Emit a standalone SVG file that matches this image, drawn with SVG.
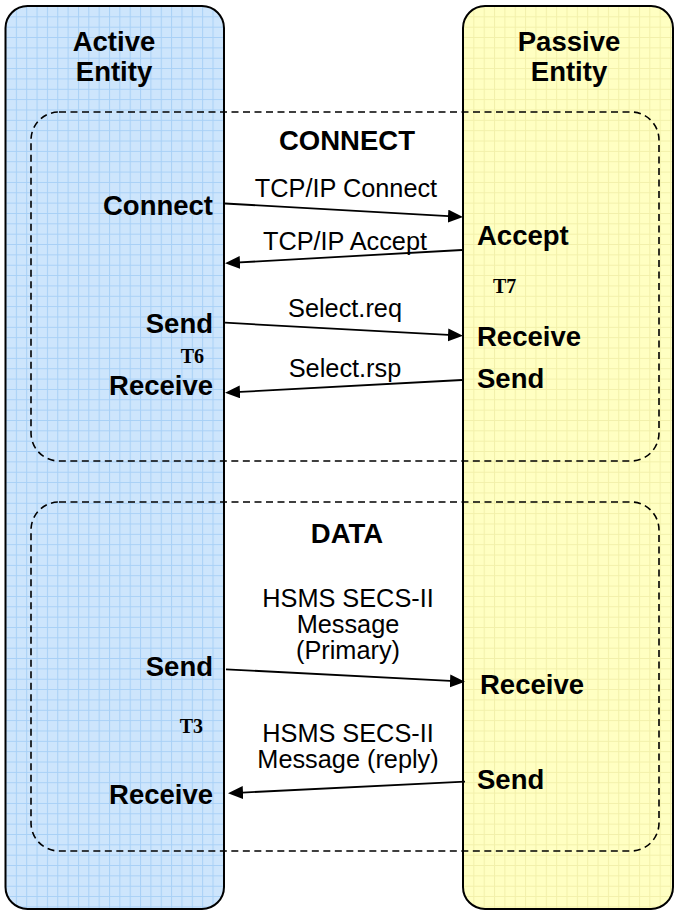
<svg xmlns="http://www.w3.org/2000/svg" width="674" height="911" viewBox="0 0 674 911">
  <style>
    .col { stroke: #000; stroke-width: 2; }
    .box { fill: none; stroke: #000; stroke-width: 1.6; stroke-dasharray: 7 4.5; }
    .title { font-family: "Liberation Sans", Arial, sans-serif; font-weight: bold; font-size: 27.5px; fill: #000; }
    .lbl { font-family: "Liberation Sans", Arial, sans-serif; font-size: 25.3px; fill: #000; }
    .tm { font-family: "Liberation Serif", "Times New Roman", serif; font-weight: bold; font-size: 20px; fill: #000; }
    .end { text-anchor: end; }
    .mid { text-anchor: middle; }
    .arrow { fill: none; stroke: #000; stroke-width: 1.8; marker-end: url(#ah); }
  </style>
  <defs>
    <pattern id="gridBlue" patternUnits="userSpaceOnUse" x="5.5" y="6" width="10.35" height="10.35">
      <rect width="10.35" height="10.35" fill="#cde5fc"/>
      <path d="M0,0.5 H10.35 M0.5,0 V10.35" stroke="#a8d0f6" stroke-width="1" fill="none"/>
    </pattern>
    <pattern id="gridYellow" patternUnits="userSpaceOnUse" x="463" y="6" width="10.35" height="10.35">
      <rect width="10.35" height="10.35" fill="#ffffc2"/>
      <path d="M0,0.5 H10.35 M0.5,0 V10.35" stroke="#f2f0aa" stroke-width="1" fill="none"/>
    </pattern>
    <marker id="ah" markerUnits="userSpaceOnUse" markerWidth="16" markerHeight="14" refX="5" refY="6.5" orient="auto">
      <path d="M0,0 L15,6.5 L0,13 z" fill="#000"/>
    </marker>
  </defs>

  <g id="active-entity">
    <rect class="col" x="5.5" y="6" width="218.5" height="903" rx="22" ry="22" fill="url(#gridBlue)"/>
    <text class="title mid" x="114" y="51">Active</text>
    <text class="title mid" x="114" y="81">Entity</text>
  </g>

  <g id="passive-entity">
    <rect class="col" x="463" y="6" width="210" height="903" rx="22" ry="22" fill="url(#gridYellow)"/>
    <text class="title mid" x="569" y="51">Passive</text>
    <text class="title mid" x="569" y="81">Entity</text>
  </g>

  <g id="connect-phase">
    <rect class="box" x="31" y="112" width="628" height="349" rx="28" ry="28"/>
    <text class="title mid" x="347" y="150">CONNECT</text>
    <text class="title end" x="213" y="215">Connect</text>
    <text class="title end" x="213" y="333">Send</text>
    <text class="tm end" x="204" y="363">T6</text>
    <text class="title end" x="213" y="395">Receive</text>
    <text class="title" x="477" y="245">Accept</text>
    <text class="tm" x="493" y="293">T7</text>
    <text class="title" x="477" y="346">Receive</text>
    <text class="title" x="477" y="388">Send</text>
  </g>

  <g id="data-phase">
    <rect class="box" x="31" y="502" width="628" height="349" rx="28" ry="28"/>
    <text class="title mid" x="347" y="543">DATA</text>
    <text class="title end" x="213" y="676">Send</text>
    <text class="tm end" x="203" y="733">T3</text>
    <text class="title end" x="213" y="804">Receive</text>
    <text class="title" x="480" y="694">Receive</text>
    <text class="title" x="477" y="789">Send</text>
  </g>

  <g id="connectors">
    <path class="arrow" d="M225,203.5 L453,216.4"/>
    <text class="lbl mid" x="346" y="197">TCP/IP Connect</text>
    <path class="arrow" d="M462,250 L235,262.7"/>
    <text class="lbl mid" x="345" y="250">TCP/IP Accept</text>
    <path class="arrow" d="M225,322.7 L453,335.2"/>
    <text class="lbl mid" x="345" y="317">Select.req</text>
    <path class="arrow" d="M462,380 L235,392.2"/>
    <text class="lbl mid" x="345" y="377">Select.rsp</text>
    <path class="arrow" d="M226,669.3 L455,681.2"/>
    <text class="lbl mid" x="348" y="607">HSMS SECS-II</text>
    <text class="lbl mid" x="348" y="633">Message</text>
    <text class="lbl mid" x="348" y="659">(Primary)</text>
    <path class="arrow" d="M465,781.7 L238,792.8"/>
    <text class="lbl mid" x="348" y="742">HSMS SECS-II</text>
    <text class="lbl mid" x="348" y="768">Message (reply)</text>
  </g>
</svg>
